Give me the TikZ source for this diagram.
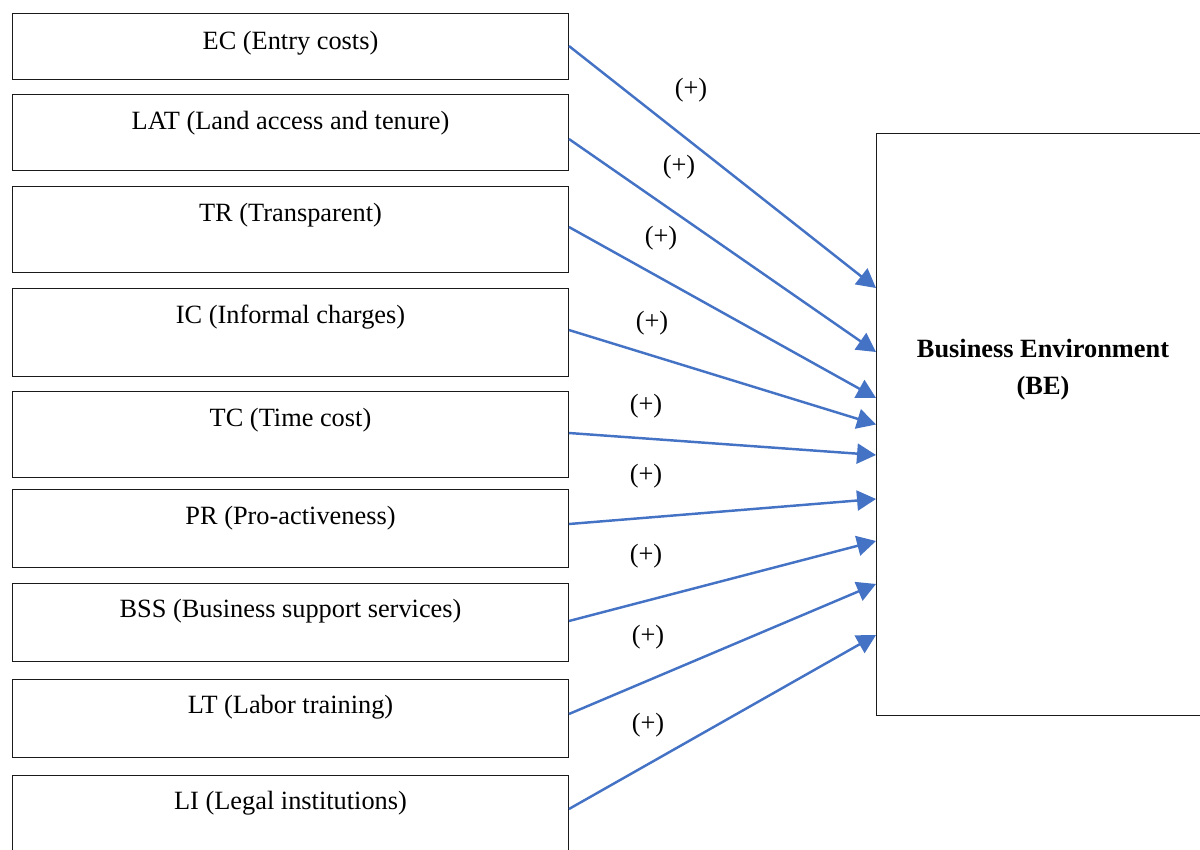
\documentclass[tikz,border=0pt]{standalone}
\usepackage{fontspec}
\setmainfont{Liberation Serif}
\usetikzlibrary{arrows.meta}
\definecolor{arrowblue}{HTML}{4472C4}
\definecolor{boxline}{HTML}{1A1A1A}
\begin{document}
\begin{tikzpicture}[x=0.02cm,y=-0.02cm,
  factor/.style={draw=boxline,line width=0.55pt,rectangle,inner sep=0pt,outer sep=0pt,
    minimum width=11.14cm},
  ftext/.style={font=\fontsize{15}{18}\selectfont},
  link/.style={draw=arrowblue,line width=1.4pt,-{Triangle[length=0.38cm,width=0.4cm]}},
  sign/.style={font=\fontsize{15}{18}\selectfont,inner sep=0pt}]
\useasboundingbox (0,0) rectangle (1200,849);
\clip (0,0) rectangle (1200,849);
% factor boxes
\node[factor,minimum height=1.32cm,label={[ftext,anchor=center,yshift=-0.6cm]north:EC (Entry costs)}] (ec) at (290.5,46) {};
\node[factor,minimum height=1.52cm,label={[ftext,anchor=center,yshift=-0.58cm]north:LAT (Land access and tenure)}] (lat) at (290.5,132) {};
\node[factor,minimum height=1.72cm,label={[ftext,anchor=center,yshift=-0.58cm]north:TR (Transparent)}] (tr) at (290.5,229) {};
\node[factor,minimum height=1.76cm,label={[ftext,anchor=center,yshift=-0.58cm]north:IC (Informal charges)}] (ic) at (290.5,332) {};
\node[factor,minimum height=1.72cm,label={[ftext,anchor=center,yshift=-0.58cm]north:TC (Time cost)}] (tc) at (290.5,434) {};
\node[factor,minimum height=1.56cm,label={[ftext,anchor=center,yshift=-0.58cm]north:PR (Pro-activeness)}] (pr) at (290.5,528) {};
\node[factor,minimum height=1.56cm,label={[ftext,anchor=center,yshift=-0.56cm]north:BSS (Business support services)}] (bss) at (290.5,622) {};
\node[factor,minimum height=1.56cm,label={[ftext,anchor=center,yshift=-0.56cm]north:LT (Labor training)}] (lt) at (290.5,718) {};
\node[factor,minimum height=1.60cm,label={[ftext,anchor=center,yshift=-0.56cm]north:LI (Legal institutions)}] (li) at (290.5,815) {};
% outcome box
\node[draw=boxline,line width=0.55pt,rectangle,inner sep=0pt,outer sep=0pt,minimum width=6.68cm,minimum height=11.66cm,
  label={[font=\fontsize{15}{21}\selectfont\bfseries,align=center,anchor=center,yshift=1.1cm]center:Business Environment\\(BE)}] (be) at (1043,424.5) {};
% arrows
\draw[link] (ec.east) -- ([yshift=2.73cm]be.west);
\draw[link] ([yshift=-0.14cm]lat.east) -- ([yshift=1.45cm]be.west);
\draw[link] ([yshift=0.04cm]tr.east) -- ([yshift=0.53cm]be.west);
\draw[link] ([yshift=0.04cm]ic.east) -- ([yshift=0cm]be.west);
\draw[link] ([yshift=0.02cm]tc.east) -- ([yshift=-0.61cm]be.west);
\draw[link] ([yshift=0.08cm]pr.east) -- ([yshift=-1.49cm]be.west);
\draw[link] ([yshift=0.02cm]bss.east) -- ([yshift=-2.33cm]be.west);
\draw[link] ([yshift=0.08cm]lt.east) -- ([yshift=-3.19cm]be.west);
\draw[link] ([yshift=0.12cm]li.east) -- ([yshift=-4.21cm]be.west);
% signs
\node[sign] (s1) at (691,90) {(+)};
\node[sign] (s2) at (679,167) {(+)};
\node[sign] (s3) at (661,238) {(+)};
\node[sign] (s4) at (652,323) {(+)};
\node[sign] (s5) at (646,406) {(+)};
\node[sign] (s6) at (646,476) {(+)};
\node[sign] (s7) at (646,556) {(+)};
\node[sign] (s8) at (648,637) {(+)};
\node[sign] (s9) at (648,725) {(+)};
\end{tikzpicture}
\end{document}
